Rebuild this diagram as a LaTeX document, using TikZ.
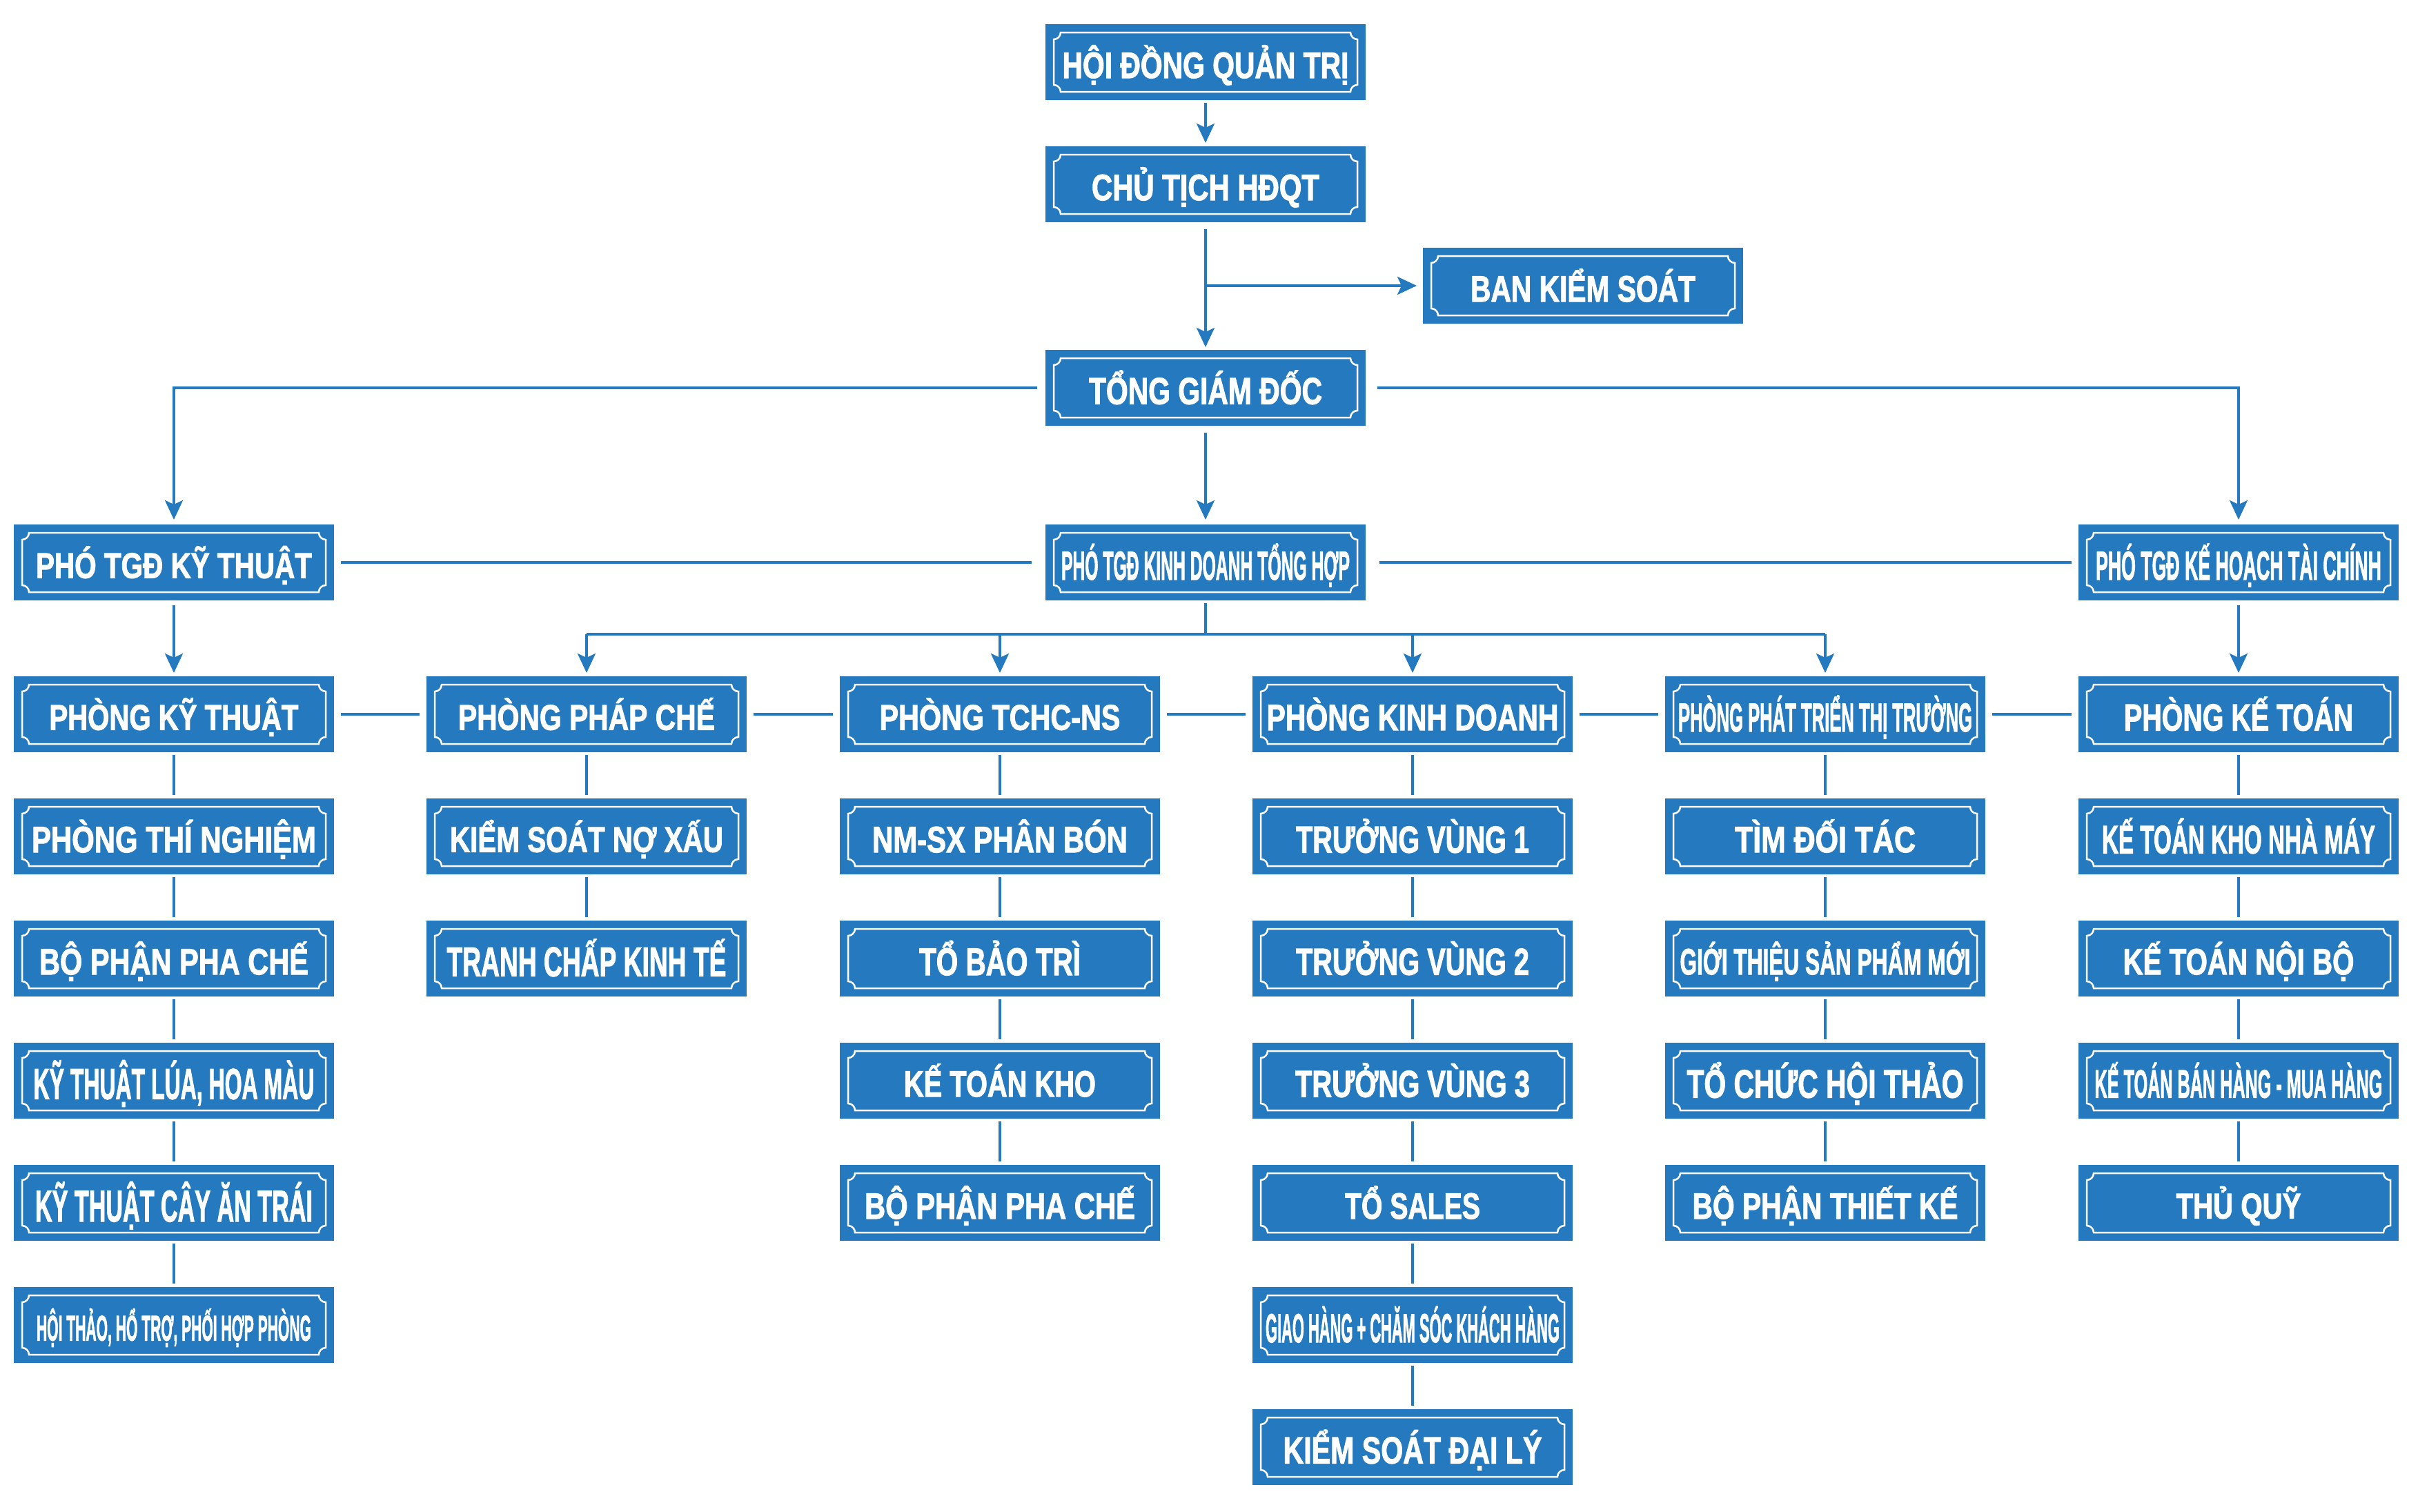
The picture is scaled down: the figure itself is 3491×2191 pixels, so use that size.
\documentclass[tikz,border=0pt]{standalone}
\usepackage{fontspec}
\setmainfont{Liberation Sans}[BoldFeatures={FakeBold=2.2}]
\usepackage{graphicx}
\usetikzlibrary{arrows.meta}
\definecolor{bl}{HTML}{2479BF}
\newdimen\px \px=0.1mm
\newdimen\fsu \fsu=0.3974pt
\newcommand\lbl[3]{\raisebox{0pt}[\dimexpr#2\px+8\px\relax][0pt]{\fontsize{\the\dimexpr#2\fsu\relax}{\the\dimexpr#2\fsu\relax}\selectfont\bfseries\resizebox{#1\px}{\height}{#3}}}
\tikzset{
 orgbox/.style={rectangle, fill=bl, inner sep=0pt, outer sep=0pt,
   minimum width=46.4mm, minimum height=11mm, text=white,
   path picture={\draw[white,line width=0.25mm]
     ([xshift=2.2mm,yshift=-1.2mm]path picture bounding box.north west) --
     ([xshift=-2.2mm,yshift=-1.2mm]path picture bounding box.north east)
       arc[start angle=180,end angle=270,radius=1mm] --
     ([xshift=-1.2mm,yshift=2.2mm]path picture bounding box.south east)
       arc[start angle=90,end angle=180,radius=1mm] --
     ([xshift=2.2mm,yshift=1.2mm]path picture bounding box.south west)
       arc[start angle=0,end angle=90,radius=1mm] --
     ([xshift=1.2mm,yshift=-2.2mm]path picture bounding box.north west)
       arc[start angle=270,end angle=360,radius=1mm] -- cycle;}},
 ln/.style={draw=bl, line width=0.38mm},
 arr/.style={ln, -{Stealth[length=2.8mm,width=2.6mm,inset=0.6mm]}},
 vgap/.style={shorten <=0.4mm, shorten >=0.5mm}
}
\begin{document}
\begin{tikzpicture}[x=0.1mm,y=-0.1mm]
\useasboundingbox (0,0) rectangle (3491,2191);
% top
\node[orgbox] (hdqt) at (1747,90)  {\lbl{415}{38}{HỘI ĐỒNG QUẢN TRỊ}};
\node[orgbox] (ct)   at (1747,267) {\lbl{330}{38}{CHỦ TỊCH HĐQT}};
\node[orgbox] (bks)  at (2294,414) {\lbl{326}{38}{BAN KIỂM SOÁT}};
\node[orgbox] (tgd)  at (1747,562) {\lbl{338}{39}{TỔNG GIÁM ĐỐC}};
% deputies
\node[orgbox] (pkt) at (252,815)  {\lbl{400}{37}{PHÓ TGĐ KỸ THUẬT}};
\node[orgbox] (pkd) at (1747,815) {\lbl{418}{42}{PHÓ TGĐ KINH DOANH TỔNG HỢP}};
\node[orgbox] (pkh) at (3244,815) {\lbl{414}{42}{PHÓ TGĐ KẾ HOẠCH TÀI CHÍNH}};
% column 1
\node[orgbox] (a1) at (252,1035) {\lbl{361}{37}{PHÒNG KỸ THUẬT}};
\node[orgbox] (a2) at (252,1212) {\lbl{412}{38}{PHÒNG THÍ NGHIỆM}};
\node[orgbox] (a3) at (252,1389) {\lbl{390}{38}{BỘ PHẬN PHA CHẾ}};
\node[orgbox] (a4) at (252,1566) {\lbl{407}{45}{KỸ THUẬT LÚA, HOA MÀU}};
\node[orgbox] (a5) at (252,1743) {\lbl{402}{46}{KỸ THUẬT CÂY ĂN TRÁI}};
\node[orgbox] (a6) at (252,1920) {\lbl{398}{37}{HỘI THẢO, HỔ TRỢ, PHỐI HỢP PHÒNG}};
% column 2
\node[orgbox] (b1) at (850,1035) {\lbl{372}{37}{PHÒNG PHÁP CHẾ}};
\node[orgbox] (b2) at (850,1212) {\lbl{396}{37}{KIỂM SOÁT NỢ XẤU}};
\node[orgbox] (b3) at (850,1389) {\lbl{405}{43}{TRANH CHẤP KINH TẾ}};
% column 3
\node[orgbox] (c1) at (1449,1035) {\lbl{349}{37}{PHÒNG TCHC-NS}};
\node[orgbox] (c2) at (1449,1212) {\lbl{370}{38}{NM-SX PHÂN BÓN}};
\node[orgbox] (c3) at (1449,1389) {\lbl{234}{40}{TỔ BẢO TRÌ}};
\node[orgbox] (c4) at (1449,1566) {\lbl{278}{38}{KẾ TOÁN KHO}};
\node[orgbox] (c5) at (1449,1743) {\lbl{392}{38}{BỘ PHẬN PHA CHẾ}};
% column 4
\node[orgbox] (d1) at (2047,1035) {\lbl{423}{38}{PHÒNG KINH DOANH}};
\node[orgbox] (d2) at (2047,1212) {\lbl{338}{39}{TRƯỞNG VÙNG 1}};
\node[orgbox] (d3) at (2047,1389) {\lbl{338}{39}{TRƯỞNG VÙNG 2}};
\node[orgbox] (d4) at (2047,1566) {\lbl{340}{39}{TRƯỞNG VÙNG 3}};
\node[orgbox] (d5) at (2047,1743) {\lbl{196}{38}{TỔ SALES}};
\node[orgbox] (d6) at (2047,1920) {\lbl{426}{42}{GIAO HÀNG + CHĂM SÓC KHÁCH HÀNG}};
\node[orgbox] (d7) at (2047,2097) {\lbl{375}{39}{KIỂM SOÁT ĐẠI LÝ}};
% column 5
\node[orgbox] (e1) at (2645,1035) {\lbl{426}{42}{PHÒNG PHÁT TRIỂN THỊ TRƯỜNG}};
\node[orgbox] (e2) at (2645,1212) {\lbl{262}{38}{TÌM ĐỐI TÁC}};
\node[orgbox] (e3) at (2645,1389) {\lbl{421}{38}{GIỚI THIỆU SẢN PHẨM MỚI}};
\node[orgbox] (e4) at (2645,1566) {\lbl{401}{41}{TỔ CHỨC HỘI THẢO}};
\node[orgbox] (e5) at (2645,1743) {\lbl{385}{38}{BỘ PHẬN THIẾT KẾ}};
% column 6
\node[orgbox] (f1) at (3244,1035) {\lbl{332}{39}{PHÒNG KẾ TOÁN}};
\node[orgbox] (f2) at (3244,1212) {\lbl{396}{41}{KẾ TOÁN KHO NHÀ MÁY}};
\node[orgbox] (f3) at (3244,1389) {\lbl{335}{38}{KẾ TOÁN NỘI BỘ}};
\node[orgbox] (f4) at (3244,1566) {\lbl{417}{41}{KẾ TOÁN BÁN HÀNG - MUA HÀNG}};
\node[orgbox] (f5) at (3244,1743) {\lbl{181}{37}{THỦ QUỸ}};
% connectors top
\draw[arr,vgap] (hdqt) -- (ct);
\draw[arr,shorten <=1mm,shorten >=0.4mm] (ct) -- (tgd);
\draw[arr,shorten >=0.9mm] (ct.south |- bks.west) -- (bks.west);
\draw[arr,shorten <=1.2mm,shorten >=0.7mm] (tgd.west) -| (pkt.north);
\draw[arr,shorten <=1.7mm,shorten >=0.7mm] (tgd.east) -| (pkh.north);
\draw[arr,shorten <=1mm,shorten >=0.7mm] (tgd) -- (pkd);
\draw[ln,shorten <=1mm,shorten >=2mm] (pkt.east) -- (pkd.west);
\draw[ln,shorten <=2mm,shorten >=1mm] (pkd.east) -- (pkh.west);
\draw[arr,shorten <=0.7mm,shorten >=0.5mm] (pkt) -- (a1);
\draw[arr,shorten <=0.7mm,shorten >=0.5mm] (pkh) -- (f1);
% bus under PHO TGD KINH DOANH
\coordinate (busy) at (0,919);
\draw[ln,shorten <=0.4mm] (pkd.south) -- (pkd.south |- busy);
\draw[ln] (b1.north |- busy) -- (e1.north |- busy);
\foreach \n in {b1,c1,d1,e1} \draw[arr,shorten >=0.5mm] (\n.north |- busy) -- (\n.north);
% department row links
\foreach \p/\q in {a1/b1,b1/c1,c1/d1,d1/e1,e1/f1}
  \draw[ln,shorten <=1mm,shorten >=1mm] (\p.east) -- (\q.west);
% column chains
\foreach \p/\q in {a1/a2,a2/a3,a3/a4,a4/a5,a5/a6,b1/b2,b2/b3,c1/c2,c2/c3,c3/c4,c4/c5,d1/d2,d2/d3,d3/d4,d4/d5,d5/d6,d6/d7,e1/e2,e2/e3,e3/e4,e4/e5,f1/f2,f2/f3,f3/f4,f4/f5}
  \draw[ln,vgap] (\p) -- (\q);
\end{tikzpicture}
\end{document}
